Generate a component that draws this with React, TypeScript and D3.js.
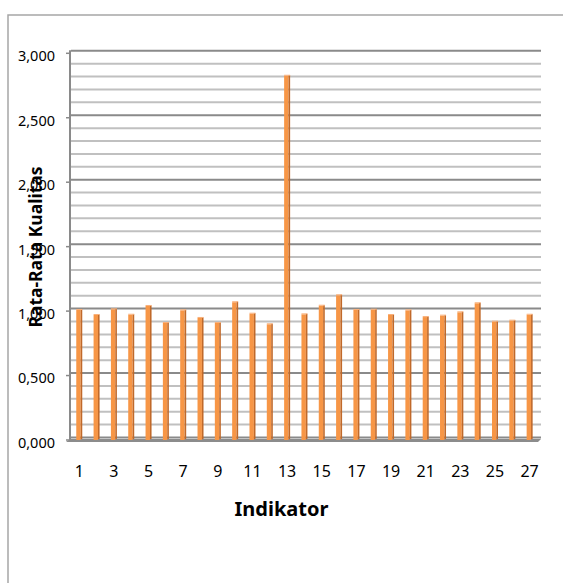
import { useEffect, useRef } from "react"
import * as d3 from "d3"

// indikator 1..27
const indikator = d3.range(1, 28).map(String)

// rata-rata kualitas per indikator
const nilai = [
	1.001, 0.962, 1.006, 0.964, 1.032, 0.9, 0.998, 0.939, 0.9, 1.061, 0.972, 0.89, 2.818, 0.967,
	1.034, 1.115, 1.001, 1.003, 0.962, 0.998, 0.946, 0.957, 0.983, 1.053, 0.91, 0.918, 0.964,
]

const majorTicks = [0, 0.5, 1, 1.5, 2, 2.5, 3]
const minorTicks = d3.range(0, 31).map((d) => d / 10)
const xLabelStep = 2

const fmt = (v: number) => d3.format(".3f")(v).replace(".", ",")

const App = () => {
	const svgRef = useRef(null)

	useEffect(() => {
		const svg = d3.select(svgRef.current)
		svg.selectAll("*").remove()

		const width = 563
		const height = 583
		const font = "'Noto Sans', sans-serif"

		// 3d depth offset of the back wall
		const dy = 3

		const x = d3.scaleBand().domain(indikator).range([70.6, 538.3]).paddingInner(0)
		const y = d3.scaleLinear().domain([0, 3]).range([439, 52.3])

		// outer border (only top & left visible)
		svg.append("path")
			.attr("d", `M8,${height} L8,15 L${width},15`)
			.attr("fill", "none")
			.attr("stroke", "#a6a6a6")
			.attr("stroke-width", 1.5)

		const g = svg.append("g")

		// gridlines on the back wall
		g.selectAll("line.minor")
			.data(minorTicks)
			.enter()
			.append("line")
			.attr("x1", 71)
			.attr("x2", 541)
			.attr("y1", (d) => y(d) - dy + 1.5)
			.attr("y2", (d) => y(d) - dy + 1.5)
			.attr("stroke", (d) => (Math.abs((d * 2) % 1) < 1e-6 ? "#8a8a8a" : "#c0c0c0"))
			.attr("stroke-width", 2)

		// left wall edge
		g.append("line")
			.attr("x1", 70)
			.attr("x2", 70)
			.attr("y1", y(3) - dy + 1)
			.attr("y2", y(0) + 1)
			.attr("stroke", "#8a8a8a")
			.attr("stroke-width", 2)

		// tick marks
		g.selectAll("line.tick")
			.data(majorTicks)
			.enter()
			.append("line")
			.attr("x1", 66)
			.attr("x2", 70)
			.attr("y1", (d) => y(d) + 1)
			.attr("y2", (d) => y(d) + 1)
			.attr("stroke", "#8a8a8a")
			.attr("stroke-width", 1.5)

		// floor
		const y0 = y(0)
		g.append("polygon")
			.attr("points", `66,${y0 + 3} ${538},${y0 + 3} ${541},${y0} ${70},${y0}`)
			.attr("fill", "#8c8c8c")

		// bars
		const bw = 6
		const side = 1.6
		const bars = g
			.selectAll("g.bar")
			.data(nilai)
			.enter()
			.append("g")
			.attr("transform", (_, i) => `translate(${x(indikator[i])! + x.bandwidth() / 2 - bw / 2},0)`)

		bars.append("rect")
			.attr("x", 0)
			.attr("width", bw - side)
			.attr("y", (d) => y(d))
			.attr("height", (d) => y0 + 1 - y(d))
			.attr("fill", "#f79646")

		bars.append("rect")
			.attr("x", bw - side)
			.attr("width", side)
			.attr("y", (d) => y(d) - 0.5)
			.attr("height", (d) => y0 + 0.5 - y(d))
			.attr("fill", "#c0692a")

		bars.append("rect")
			.attr("x", 0)
			.attr("width", bw)
			.attr("y", (d) => y(d) - 1)
			.attr("height", 1)
			.attr("fill", "#f9b07a")

		// y tick labels
		svg.selectAll("text.ylab")
			.data(majorTicks)
			.enter()
			.append("text")
			.attr("x", 55)
			.attr("y", (d) => y(d) + 5)
			.attr("text-anchor", "end")
			.attr("dominant-baseline", "middle")
			.attr("font-family", font)
			.attr("font-size", 14.5)
			.attr("fill", "#000")
			.text((d) => fmt(d))

		// x tick labels
		svg.selectAll("text.xlab")
			.data(indikator.filter((_, i) => i % xLabelStep === 0))
			.enter()
			.append("text")
			.attr("x", (d) => x(d)! + x.bandwidth() / 2)
			.attr("y", 477)
			.attr("text-anchor", "middle")
			.attr("font-family", font)
			.attr("font-size", 16)
			.attr("fill", "#000")
			.text((d) => d)

		// axis titles
		svg.append("text")
			.attr("x", 281.5)
			.attr("y", 516)
			.attr("text-anchor", "middle")
			.attr("font-family", font)
			.attr("font-weight", "bold")
			.attr("font-size", 20)
			.attr("fill", "#000")
			.text("Indikator")

		svg.append("text")
			.attr("transform", "translate(42,247) rotate(-90)")
			.attr("text-anchor", "middle")
			.attr("font-family", font)
			.attr("font-weight", "bold")
			.attr("font-size", 17.5)
			.attr("fill", "#000")
			.text("Rata-Rata Kualitas")
	}, [])

	return (
		<svg
			ref={svgRef}
			width={563}
			height={583}
			style={{ position: "absolute", left: 0, top: 0, background: "#fff" }}
		></svg>
	)
}

export default App
